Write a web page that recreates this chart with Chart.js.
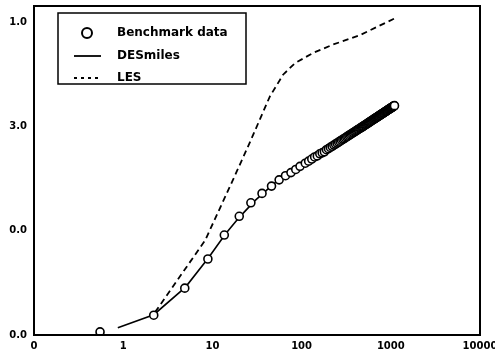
<!DOCTYPE html>
<html>
<head>
<meta charset="utf-8">
<script src="https://cdn.jsdelivr.net/npm/chart.js@4/dist/chart.umd.min.js"></script>
<style>
html,body{margin:0;padding:0;background:#fff;overflow:hidden;}
canvas{display:block;}
</style>
</head>
<body>
<canvas id="c" width="495" height="361"></canvas>
<script>
// Benchmark data (circles)
const benchX = [0.55, 2.2, 4.9, 8.9, 13.6, 20, 27, 36, 46, 56, 66, 76, 86, 96, 110, 120, 130, 140, 150, 160, 170, 180, 190, 200,
  210, 220, 230, 240, 250, 260, 270, 280, 290, 300, 310, 320, 330, 340, 350, 360, 370, 380, 390, 400,
  410, 420, 430, 440, 450, 460, 470, 480, 490, 500, 510, 520, 530, 540, 550, 560, 570, 580, 590, 600,
  610, 620, 630, 640, 650, 660, 670, 680, 690, 700, 710, 720, 730, 740, 750, 760, 770, 780, 790, 800,
  810, 820, 830, 840, 850, 860, 870, 880, 890, 900, 910, 920, 930, 940, 950, 960, 970, 980, 990, 1000,
  1010, 1020, 1030, 1040, 1050, 1060, 1070, 1080, 1090, 1100];
const benchY = [0.3, 1.9, 4.5, 7.3, 9.6, 11.4, 12.7, 13.6, 14.3, 14.9, 15.3, 15.6, 15.9, 16.2, 16.5, 16.7, 16.9, 17.1, 17.2, 17.4, 17.5, 17.6, 17.8, 17.9,
  18.02, 18.13, 18.24, 18.34, 18.44, 18.53, 18.62, 18.71, 18.79, 18.87, 18.95, 19.03, 19.10, 19.17, 19.24, 19.31, 19.38, 19.44, 19.50, 19.56,
  19.62, 19.68, 19.74, 19.79, 19.85, 19.90, 19.95, 20.00, 20.05, 20.10, 20.15, 20.20, 20.24, 20.29, 20.33, 20.38, 20.42, 20.46, 20.51, 20.55,
  20.59, 20.63, 20.67, 20.71, 20.74, 20.78, 20.82, 20.85, 20.89, 20.93, 20.96, 20.99, 21.03, 21.06, 21.09, 21.13, 21.16, 21.19, 21.22, 21.25,
  21.28, 21.31, 21.34, 21.37, 21.40, 21.43, 21.46, 21.49, 21.51, 21.54, 21.57, 21.60, 21.62, 21.65, 21.68, 21.70, 21.73, 21.75, 21.78, 21.80,
  21.82, 21.85, 21.87, 21.90, 21.92, 21.94, 21.97, 21.99, 22.01, 22.03];
// DESmiles (solid)
const desX = [0.87, 2.2, 5, 9, 14, 20, 30, 50, 100, 200, 500, 1000, 1100];
const desY = [0.7, 1.95, 4.6, 7.4, 9.7, 11.3, 12.9, 14.6, 16.3, 17.9, 20.1, 21.8, 22.0];
// LES (dashed)
const lesX = [2.28, 8.3, 17, 26, 44, 62, 84, 135, 226, 452, 1160];
const lesY = [2.2, 9.1, 14.9, 18.4, 22.9, 25.0, 26.1, 27.1, 27.9, 28.8, 30.5];
// Axis ticks
const xTicks = [0.1, 1, 10, 100, 1000, 10000];
const xTickLabels = ["0", "1", "10", "100", "1000", "10000"];
const yTicks = [0, 10, 20, 30];
const yTickLabels = ["0.0", "0.0", "3.0", "1.0"];
const seriesLabels = ["Benchmark data", "DESmiles", "LES"];

const pts = (xs, ys) => xs.map((x, i) => ({x: x, y: ys[i]}));

const frame = {
  id: 'frame',
  afterDatasetsDraw(chart) {
    const a = chart.chartArea, ctx = chart.ctx;
    ctx.save();
    ctx.strokeStyle = '#000';
    ctx.lineWidth = 2;
    ctx.strokeRect(a.left, a.top, a.right - a.left, a.bottom - a.top);
    ctx.restore();
  }
};

const legendBox = {
  id: 'legendBox',
  afterDraw(chart) {
    const ctx = chart.ctx;
    const ds = chart.data.datasets;
    ctx.save();
    ctx.fillStyle = '#fff';
    ctx.fillRect(58, 13, 188, 71);
    ctx.strokeStyle = '#000';
    ctx.lineWidth = 1.5;
    ctx.strokeRect(58, 13, 188, 71);
    ctx.font = 'bold 12px "DejaVu Sans"';
    ctx.fillStyle = '#000';
    ctx.textBaseline = 'middle';
    const rows = [33, 56, 78];
    ctx.beginPath();
    ctx.arc(87, rows[0], 5, 0, Math.PI * 2);
    ctx.lineWidth = 2;
    ctx.stroke();
    ctx.beginPath();
    ctx.moveTo(74, rows[1]); ctx.lineTo(101, rows[1]);
    ctx.lineWidth = 1.8; ctx.stroke();
    ctx.setLineDash([3, 4]);
    ctx.beginPath();
    ctx.moveTo(74, rows[2]); ctx.lineTo(101, rows[2]);
    ctx.stroke();
    ctx.setLineDash([]);
    ds.forEach((d, i) => ctx.fillText(d.label, 117, rows[i]));
    ctx.restore();
  }
};

function zeroPad(s) { s.paddingTop = 0; s.paddingBottom = 0; s.paddingLeft = 0; s.paddingRight = 0; }

new Chart(document.getElementById('c'), {
  type: 'scatter',
  data: {
    datasets: [
      {label: seriesLabels[0], data: pts(benchX, benchY), showLine: false,
       pointStyle: 'circle', pointRadius: 4, pointBackgroundColor: '#fff',
       pointBorderColor: '#000', pointBorderWidth: 1.6, order: 0},
      {label: seriesLabels[1], data: pts(desX, desY), showLine: true,
       borderColor: '#000', borderWidth: 1.6, pointRadius: 0, tension: 0, order: 1},
      {label: seriesLabels[2], data: pts(lesX, lesY), showLine: true,
       borderColor: '#000', borderWidth: 1.8, borderDash: [6, 4], pointRadius: 0, tension: 0, order: 2}
    ]
  },
  options: {
    responsive: false,
    animation: false,
    layout: {autoPadding: false, padding: {top: 6, right: 15, left: 0, bottom: 0}},
    plugins: {legend: {display: false}, tooltip: {enabled: false}},
    scales: {
      x: {
        type: 'logarithmic', min: 0.1, max: 10000,
        grid: {display: false, drawTicks: false},
        border: {display: true, color: '#000', width: 2},
        afterBuildTicks(s) { s.ticks = xTicks.map(v => ({value: v})); },
        afterFit(s) { s.height = 26; zeroPad(s); },
        ticks: {
          padding: 5, maxRotation: 0, autoSkip: false,
          color: '#000', font: {family: '"DejaVu Sans"', size: 10, weight: 'bold'},
          callback: (v) => { const i = xTicks.indexOf(v); return i >= 0 ? xTickLabels[i] : ''; }
        }
      },
      y: {
        min: 0, max: 31.6,
        grid: {display: false, drawTicks: false},
        border: {display: true, color: '#000', width: 2},
        afterBuildTicks(s) { s.ticks = yTicks.map(v => ({value: v})); },
        afterFit(s) { s.width = 34; zeroPad(s); },
        ticks: {
          padding: 7, autoSkip: false,
          color: '#000', font: {family: '"DejaVu Sans"', size: 10, weight: 'bold'},
          callback: (v) => { const i = yTicks.indexOf(v); return i >= 0 ? yTickLabels[i] : ''; }
        }
      }
    }
  },
  plugins: [frame, legendBox]
});
</script>
</body>
</html>
